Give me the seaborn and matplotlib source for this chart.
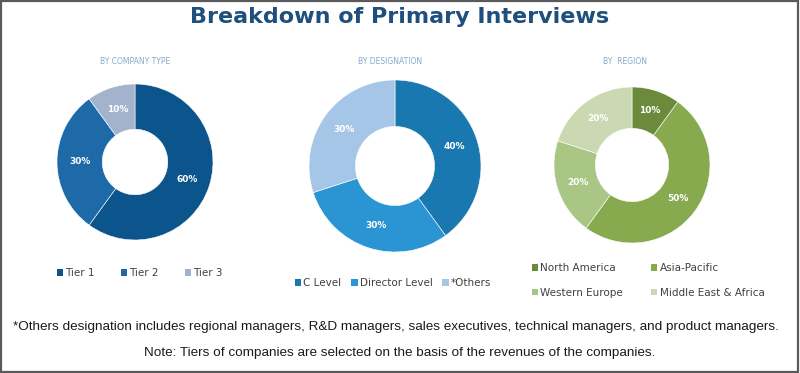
import seaborn as sns
from matplotlib import pyplot as plt
from matplotlib.patches import Patch, Rectangle

sns.set_theme(style="white")

W, H = 800, 373

# data
company_labels = ["Tier 1", "Tier 2", "Tier 3"]
company_share = [60, 30, 10]
company_colors = ["#0b548c", "#1e6aa8", "#a3b3cc"]

designation_labels = ["C Level", "Director Level", "*Others"]
designation_share = [40, 30, 30]
designation_colors = ["#1a78b0", "#2a95d2", "#a5c6e6"]

region_labels = ["North America", "Asia-Pacific", "Western Europe", "Middle East & Africa"]
region_share = [10, 50, 20, 20]
region_colors = ["#6c8a3c", "#88aa4f", "#a9c685", "#cbd9b3"]


def px_axes(fig, cx, cy, r):
    # centre and radius in pixels (y from top)
    return fig.add_axes([(cx - r) / W, (H - cy - r) / H, 2 * r / W, 2 * r / H])


def donut(ax, values, colors, hole):
    ax.pie(
        values,
        colors=colors,
        startangle=90,
        counterclock=False,
        autopct="%d%%",
        pctdistance=(1 + hole) / 2,
        wedgeprops=dict(width=1 - hole, edgecolor="white", linewidth=0.4),
        textprops=dict(color="white", fontsize=6.5, fontweight="bold"),
    )
    ax.set_xlim(-1, 1)
    ax.set_ylim(-1, 1)
    ax.set_aspect("equal")
    ax.axis("off")


def legend(fig, labels, colors, x, y, ncol, colsp, rowsp=0.6):
    handles = [Patch(facecolor=c, edgecolor="none") for c in colors]
    fig.legend(
        handles,
        labels,
        loc="upper left",
        bbox_to_anchor=(x / W, 1 - y / H),
        ncol=ncol,
        frameon=False,
        fontsize=7.5,
        handlelength=0.6,
        handleheight=0.6,
        handletextpad=0.2,
        columnspacing=colsp,
        labelspacing=rowsp,
        labelcolor="#404040",
        borderaxespad=0,
        borderpad=0,
    )


fig = plt.figure(figsize=(W / 100, H / 100), dpi=100)
fig.patch.set_facecolor("white")

ax1 = px_axes(fig, 135, 162, 78)
donut(ax1, company_share, company_colors, 0.42)
ax2 = px_axes(fig, 395, 166, 86)
donut(ax2, designation_share, designation_colors, 0.46)
ax3 = px_axes(fig, 632, 165, 78)
donut(ax3, region_share, region_colors, 0.47)

legend(fig, company_labels, company_colors, 57, 268, 3, 2.5)
legend(fig, designation_labels, designation_colors, 295, 278, 3, 0.95)
legend(fig, [region_labels[i] for i in (0, 2, 1, 3)],
       [region_colors[i] for i in (0, 2, 1, 3)], 532, 263, 2, 2.7, rowsp=1.4)

fig.text(0.5, 1 - 17 / H, "Breakdown of Primary Interviews", ha="center", va="center",
         fontsize=16, fontweight="bold", color="#1f4f7c")

sub_kw = dict(ha="center", va="center", fontsize=5.5, color="#86a9cb")
fig.text(135 / W, 1 - 62 / H, "BY COMPANY TYPE", **sub_kw)
fig.text(390 / W, 1 - 62 / H, "BY DESIGNATION", **sub_kw)
fig.text(625 / W, 1 - 62 / H, "BY  REGION", **sub_kw)

note_kw = dict(ha="center", va="center", fontsize=9.7, color="#1a1a1a",
               family=["Liberation Sans Narrow", "Liberation Sans", "DejaVu Sans"])
fig.text(396 / W, 1 - 327 / H,
         "*Others designation includes regional managers, R&D managers, sales executives, "
         "technical managers, and product managers.", **note_kw)
fig.text(400 / W, 1 - 353 / H,
         "Note: Tiers of companies are selected on the basis of the revenues of the companies.",
         **note_kw)

fig.patches.append(Rectangle((0.001, 0.002), 0.997, 0.995, transform=fig.transFigure,
                             fill=False, edgecolor="#5a5a5a", linewidth=1.6))

plt.savefig("out.png", dpi=100)
